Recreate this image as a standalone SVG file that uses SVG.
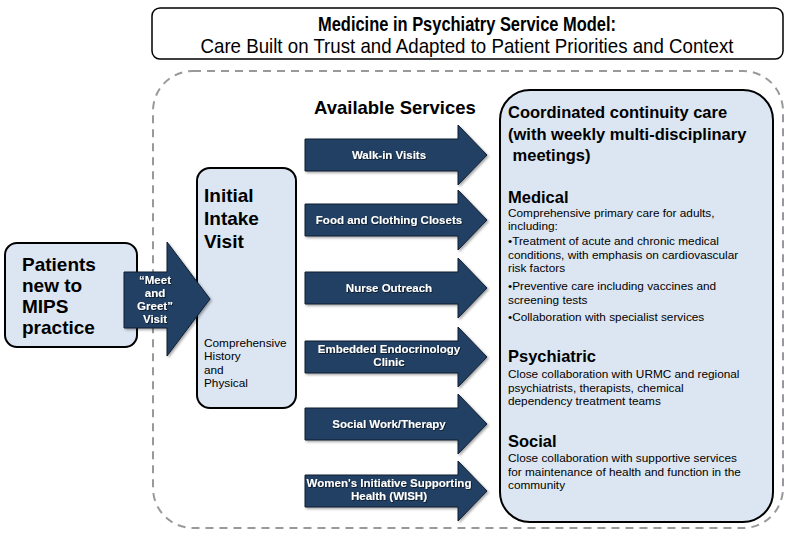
<svg xmlns="http://www.w3.org/2000/svg" width="800" height="543" viewBox="0 0 800 543">
<defs>
<filter id="sh" x="-10%" y="-10%" width="130%" height="130%">
<feDropShadow dx="1.5" dy="1.5" stdDeviation="1" flood-color="#000" flood-opacity="0.35"/>
</filter>
<filter id="tsh" x="-5%" y="-20%" width="110%" height="140%">
<feDropShadow dx="0.8" dy="0.8" stdDeviation="0.3" flood-color="#000" flood-opacity="0.7"/>
</filter>
<style>
.box{fill:#dce6f2;stroke:#000;stroke-width:2}
.arrow{fill:#243f63;stroke:#0f1e30;stroke-width:1}
.lbl{font-family:"Liberation Sans",Arial,sans-serif;font-weight:bold;font-size:11.5px;fill:#fff;text-anchor:middle}
.big{font-family:"Liberation Sans",Arial,sans-serif;font-weight:bold;fill:#000}
.body{font-family:"Liberation Sans",Arial,sans-serif;font-size:11.8px;fill:#000}
.ttl{font-family:"Liberation Sans Narrow","Liberation Sans",Arial,sans-serif;font-size:21px;fill:#000;text-anchor:middle}
</style>
</defs>
<rect width="800" height="543" fill="#fff"/>

<g id="title">
<rect x="152" y="8" width="631" height="51" rx="8" fill="#fff" stroke="#000" stroke-width="1.5"/>
<text class="ttl" x="467" y="31" font-weight="bold" textLength="298" lengthAdjust="spacingAndGlyphs">Medicine in Psychiatry Service Model:</text>
<text class="ttl" x="467" y="53" textLength="533" lengthAdjust="spacingAndGlyphs">Care Built on Trust and Adapted to Patient Priorities and Context</text>
</g>

<g id="container">
<rect x="153" y="71" width="630" height="457" rx="40" fill="none" stroke="#999" stroke-width="2" stroke-dasharray="8,6"/>
</g>

<g id="patients">
<rect class="box" x="5" y="243" width="132" height="104" rx="12"/>
<text class="big" font-size="19" x="22"><tspan x="22" y="271">Patients</tspan><tspan x="22" y="292">new to</tspan><tspan x="22" y="313">MIPS</tspan><tspan x="22" y="334">practice</tspan></text>
</g>

<g id="intake">
<rect class="box" x="197" y="168" width="99" height="240" rx="13"/>
<text class="big" font-size="19" x="204"><tspan x="204" y="202">Initial</tspan><tspan x="204" y="225">Intake</tspan><tspan x="204" y="248">Visit</tspan></text>
<text class="body" font-size="10.8" x="204"><tspan x="204" y="347">Comprehensive</tspan><tspan x="204" y="360">History</tspan><tspan x="204" y="374">and</tspan><tspan x="204" y="387">Physical</tspan></text>
</g>

<g id="services-heading">
<text class="big" font-size="18.5" x="314" y="114">Available Services</text>
</g>

<g id="coordinated">
<rect class="box" x="500" y="90" width="273" height="432" rx="30"/>
<text class="big" font-size="16.5" x="508"><tspan x="508" y="118">Coordinated continuity care</tspan><tspan x="508" y="139.5">(with weekly multi-disciplinary</tspan><tspan x="508" y="161"> meetings)</tspan></text>
<text class="big" font-size="16.5" x="508" y="203">Medical</text>
<text class="body" x="508"><tspan x="508" y="217">Comprehensive primary care for adults,</tspan><tspan x="508" y="230">including:</tspan><tspan x="508" y="245">•Treatment of acute and chronic medical</tspan><tspan x="508" y="259">conditions, with emphasis on cardiovascular</tspan><tspan x="508" y="272">risk factors</tspan><tspan x="508" y="290">•Preventive care including vaccines and</tspan><tspan x="508" y="304">screening tests</tspan><tspan x="508" y="321">•Collaboration with specialist services</tspan></text>
<text class="big" font-size="16.5" x="508" y="362">Psychiatric</text>
<text class="body" x="508"><tspan x="508" y="378">Close collaboration with URMC and regional</tspan><tspan x="508" y="392">psychiatrists, therapists, chemical</tspan><tspan x="508" y="405">dependency treatment teams</tspan></text>
<text class="big" font-size="16.5" x="508" y="447">Social</text>
<text class="body" x="508"><tspan x="508" y="462">Close collaboration with supportive services</tspan><tspan x="508" y="476">for maintenance of health and function in the</tspan><tspan x="508" y="489">community</tspan></text>
</g>

<g id="connectors">
<g id="meet-greet">
<path class="arrow" filter="url(#sh)" d="M124,272 H167 V242 L210,299 L167,356 V328 H124 Z"/>
<text class="lbl" font-size="12" filter="url(#tsh)"><tspan x="155" y="284">“Meet</tspan><tspan x="155" y="297">and</tspan><tspan x="155" y="310">Greet”</tspan><tspan x="155" y="323">Visit</tspan></text>
</g>
<g id="walkin">
<path class="arrow" filter="url(#sh)" d="M305,139 H458 V125 L487,155 L458,185 V171 H305 Z"/>
<text class="lbl" filter="url(#tsh)" x="389" y="159">Walk-in Visits</text>
</g>
<g id="food">
<path class="arrow" filter="url(#sh)" d="M305,204 H458 V190 L487,220 L458,250 V236 H305 Z"/>
<text class="lbl" filter="url(#tsh)" x="389" y="224">Food and Clothing Closets</text>
</g>
<g id="nurse">
<path class="arrow" filter="url(#sh)" d="M305,272 H458 V258 L487,288 L458,318 V304 H305 Z"/>
<text class="lbl" filter="url(#tsh)" x="389" y="292">Nurse Outreach</text>
</g>
<g id="endo">
<path class="arrow" filter="url(#sh)" d="M305,341 H458 V327 L487,357 L458,387 V373 H305 Z"/>
<text class="lbl" filter="url(#tsh)"><tspan x="389" y="353">Embedded Endocrinology</tspan><tspan x="389" y="366">Clinic</tspan></text>
</g>
<g id="social">
<path class="arrow" filter="url(#sh)" d="M305,408 H458 V394 L487,424 L458,454 V440 H305 Z"/>
<text class="lbl" filter="url(#tsh)" x="389" y="428">Social Work/Therapy</text>
</g>
<g id="wish">
<path class="arrow" filter="url(#sh)" d="M305,475 H458 V461 L487,491 L458,521 V507 H305 Z"/>
<text class="lbl" filter="url(#tsh)"><tspan x="389" y="487">Women's Initiative Supporting</tspan><tspan x="389" y="500">Health (WISH)</tspan></text>
</g>
</g>
</svg>
